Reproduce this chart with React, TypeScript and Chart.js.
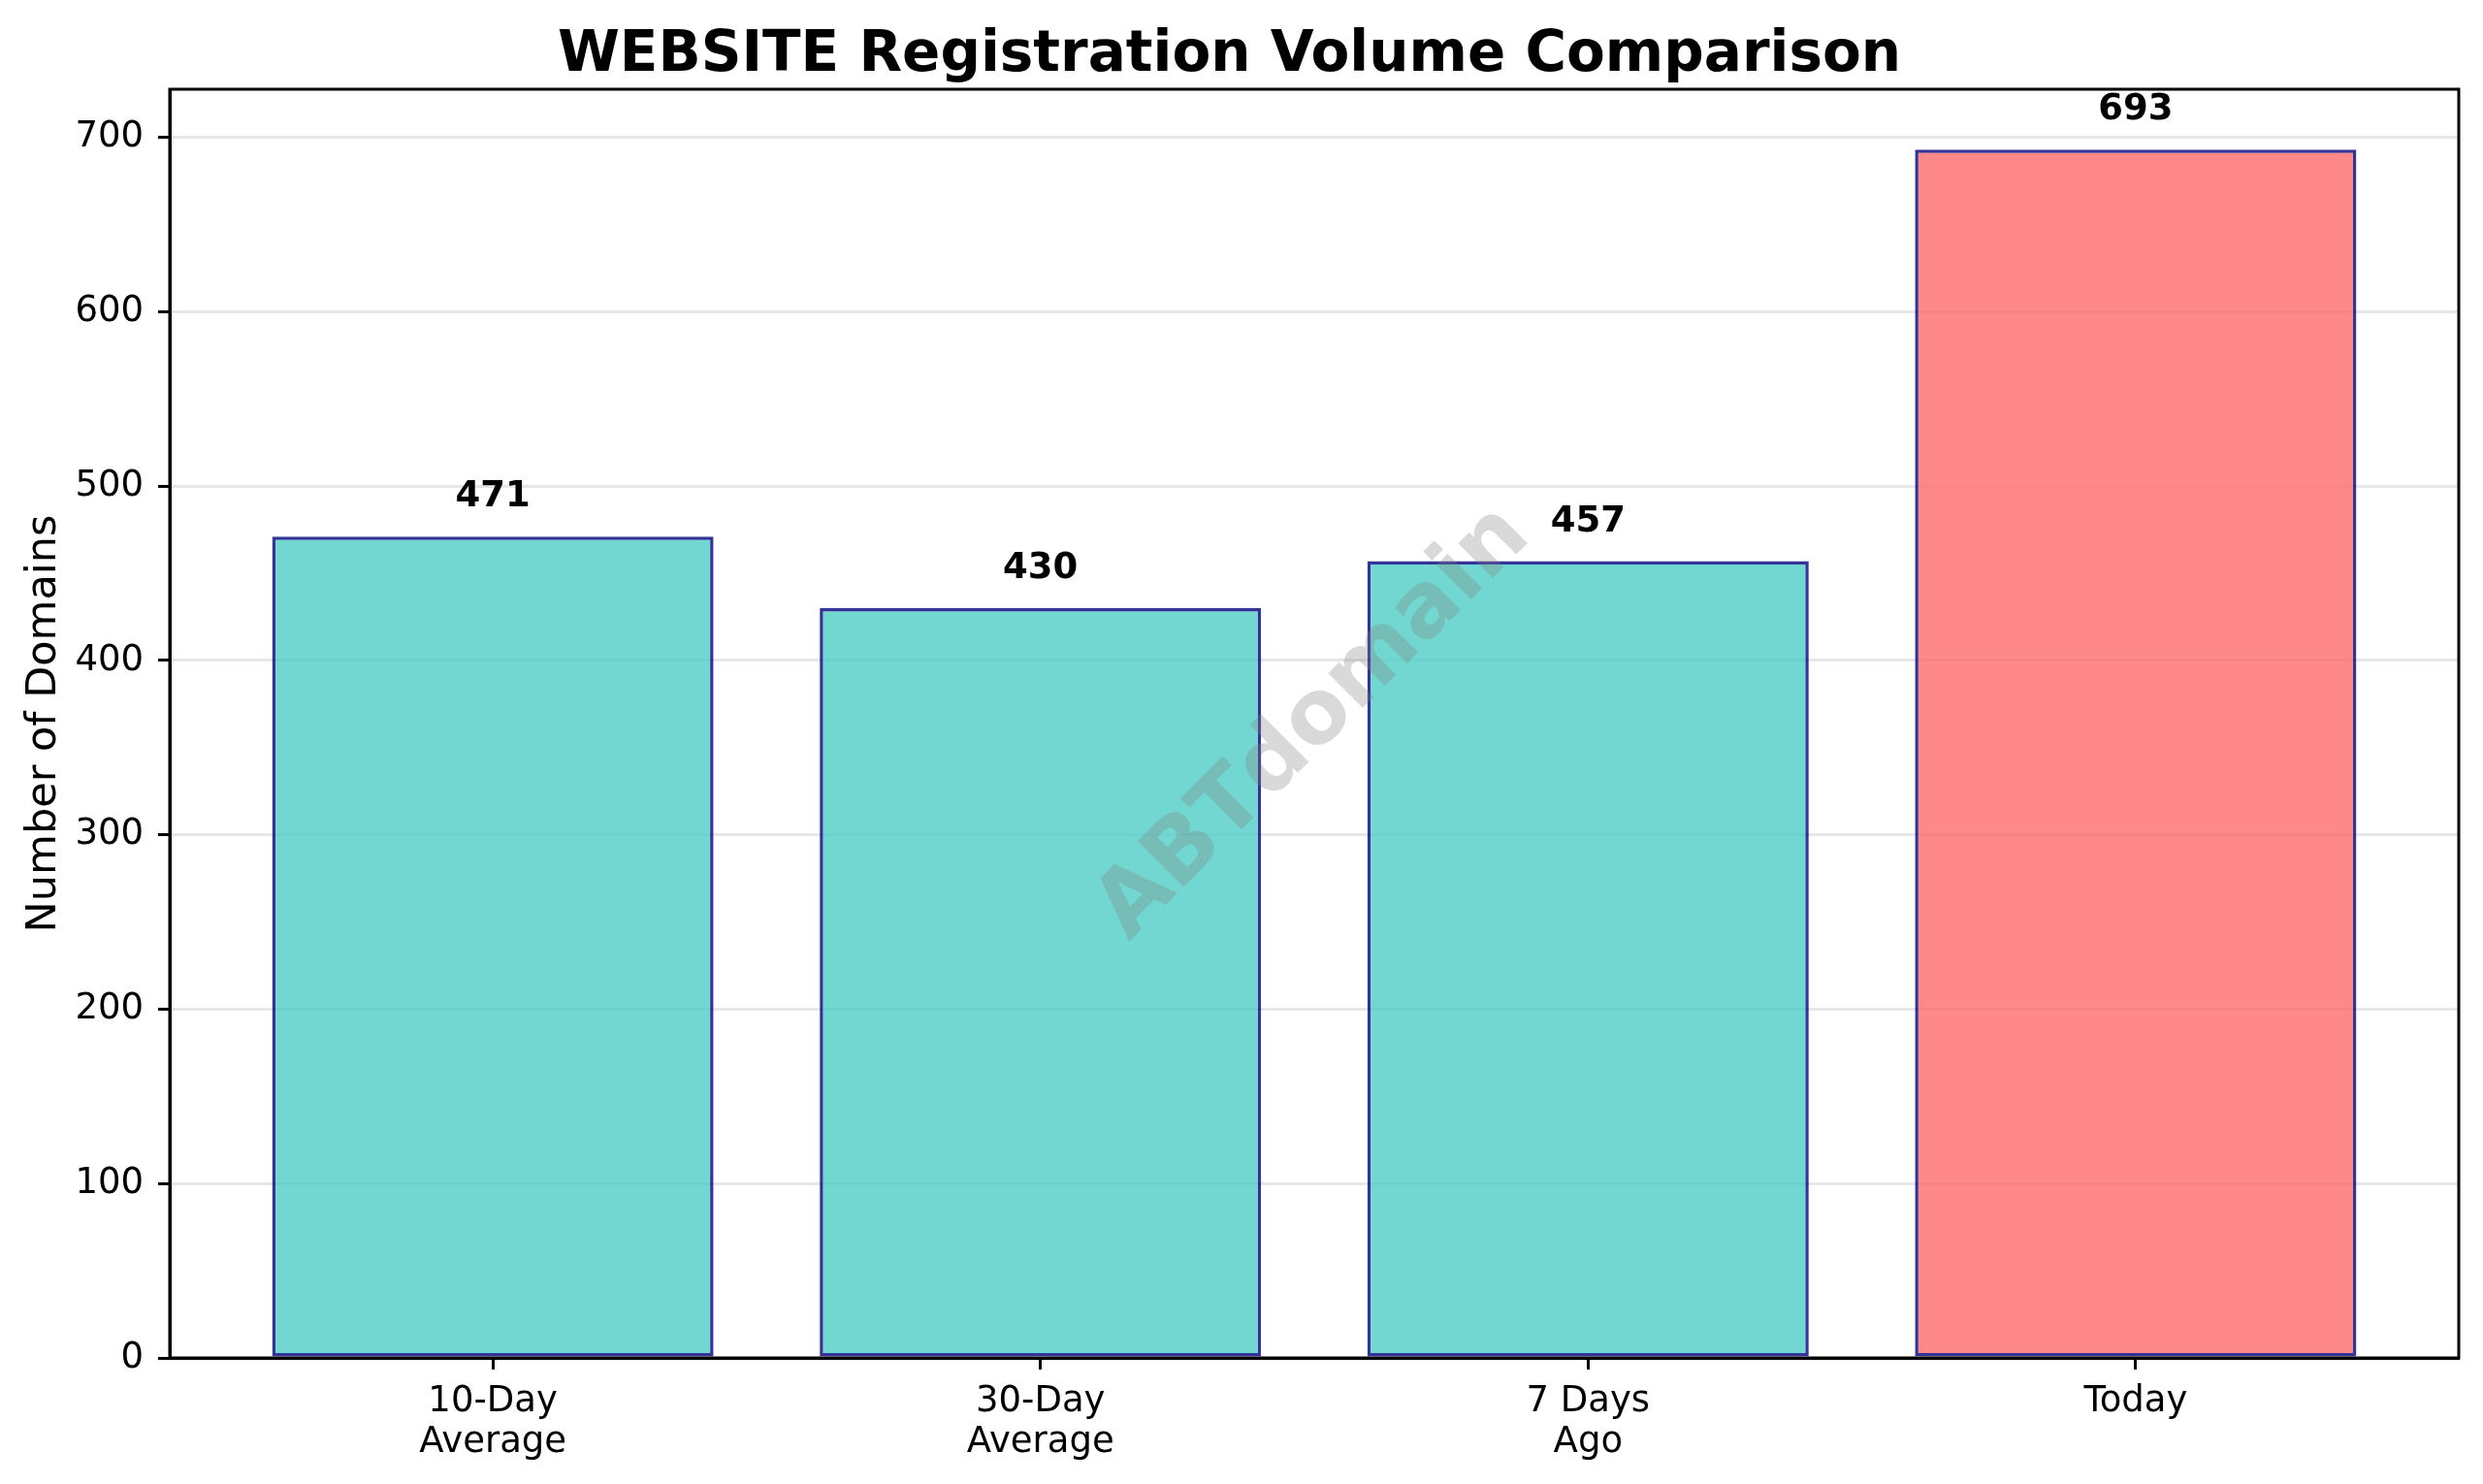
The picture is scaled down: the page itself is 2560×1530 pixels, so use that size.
import React, { useEffect, useRef } from 'react';
import { Chart, registerables } from 'chart.js';

Chart.register(...registerables);

// chart data
const categories = [['10-Day', 'Average'], ['30-Day', 'Average'], ['7 Days', 'Ago'], ['Today']];
const values = [471, 430, 457, 693];
const barColors = [
    'rgba(78, 205, 196, 0.8)',
    'rgba(78, 205, 196, 0.8)',
    'rgba(78, 205, 196, 0.8)',
    'rgba(255, 107, 107, 0.8)',
];
const yMax = 727.65;
const yStep = 100;

const FONT = "'DejaVu Sans', sans-serif";

const framePlugin = {
    id: 'frame',
    afterDraw(chart: any) {
        const {ctx, chartArea: a} = chart;
        ctx.save();
        ctx.strokeStyle = '#000';
        ctx.lineWidth = 3;
        ctx.strokeRect(a.left, a.top, a.right - a.left, a.bottom - a.top);
        ctx.restore();
    }
};

const watermarkPlugin = {
    id: 'watermark',
    afterDraw(chart: any) {
        const {ctx, chartArea: a} = chart;
        ctx.save();
        ctx.translate((a.left + a.right) / 2, (a.top + a.bottom) / 2);
        ctx.rotate(-Math.PI / 4);
        ctx.font = `bold 92px ${FONT}`;
        ctx.fillStyle = 'rgba(128, 128, 128, 0.3)';
        ctx.textAlign = 'center';
        ctx.textBaseline = 'middle';
        ctx.fillText('ABTdomain', 0, 0);
        ctx.restore();
    }
};

const valueLabelPlugin = {
    id: 'valueLabels',
    afterDraw(chart: any) {
        const {ctx} = chart;
        const meta = chart.getDatasetMeta(0);
        ctx.save();
        ctx.font = `bold 37px ${FONT}`;
        ctx.fillStyle = '#000';
        ctx.textAlign = 'center';
        ctx.textBaseline = 'alphabetic';
        meta.data.forEach((bar: any, i: number) => {
            ctx.fillText(String(values[i]), bar.x, bar.y - 31);
        });
        ctx.restore();
    }
};

const App: React.FC = () => {
    const chartRef = useRef<HTMLCanvasElement | null>(null);
    const chartInstanceRef = useRef<Chart | null>(null);

    useEffect(() => {
        document.body.style.margin = '0';
        if (chartInstanceRef.current) {
            chartInstanceRef.current.destroy();
        }
        if (!chartRef.current) return;
        const ctx = chartRef.current.getContext('2d');
        if (!ctx) return;

        chartInstanceRef.current = new Chart(ctx, {
            type: 'bar',
            data: {
                datasets: [
                    {
                        data: values.map((v, i) => ({x: i, y: v})),
                        backgroundColor: barColors,
                        borderColor: 'rgba(0, 0, 128, 0.8)',
                        borderWidth: 3.5,
                        borderSkipped: false,
                        categoryPercentage: 1,
                        barPercentage: 0.806,
                    }
                ]
            },
            options: {
                animation: false,
                responsive: false,
                devicePixelRatio: 1,
                layout: {padding: {left: 0, right: 25, top: 0, bottom: 0}},
                plugins: {
                    legend: {display: false},
                    tooltip: {enabled: false},
                    title: {
                        display: true,
                        text: 'WEBSITE Registration Volume Comparison',
                        color: '#000',
                        font: {family: FONT, size: 58, weight: 'bold', lineHeight: 1.0},
                        padding: {top: 29.3, bottom: 4.7},
                    },
                },
                scales: {
                    x: {
                        type: 'linear',
                        offset: false,
                        min: -0.59,
                        max: 3.59,
                        afterBuildTicks: (s: any) => {
                            s.ticks = categories.map((_, i) => ({value: i}));
                        },
                        afterFit: (s: any) => {
                            s.height = 130;
                        },
                        ticks: {
                            callback: (v: any) => categories[v],
                            color: '#000',
                            font: {family: FONT, size: 37, lineHeight: 1.15},
                            padding: 12,
                            maxRotation: 0,
                            autoSkip: false,
                        },
                        grid: {
                            offset: false,
                            drawOnChartArea: false,
                            tickLength: 12,
                            tickColor: '#000',
                            tickWidth: 3,
                        },
                        border: {color: '#000', width: 3},
                        z: 1,
                    },
                    y: {
                        min: 0,
                        max: yMax,
                        afterFit: (s: any) => {
                            s.width = 175;
                        },
                        ticks: {
                            stepSize: yStep,
                            includeBounds: false,
                            color: '#000',
                            font: {family: FONT, size: 37},
                            padding: 15,
                        },
                        grid: {
                            color: 'rgba(176, 176, 176, 0.3)',
                            lineWidth: 3,
                            tickLength: 12,
                            tickColor: '#000',
                            tickWidth: 3,
                        },
                        border: {color: '#000', width: 3},
                        title: {
                            display: true,
                            text: 'Number of Domains',
                            color: '#000',
                            font: {family: FONT, size: 43, lineHeight: 1.2},
                            padding: {top: 20, bottom: 0},
                        },
                        z: 1,
                    }
                }
            } as any,
            plugins: [framePlugin, watermarkPlugin, valueLabelPlugin],
        });

        return () => {
            if (chartInstanceRef.current) {
                chartInstanceRef.current.destroy();
                chartInstanceRef.current = null;
            }
        };
    }, []);

    return (
        <div style={{width: 2560, height: 1530, background: '#fff'}}>
            <canvas ref={chartRef} width="2560" height="1530" style={{display: 'block'}}></canvas>
        </div>
    );
};

export default App;
